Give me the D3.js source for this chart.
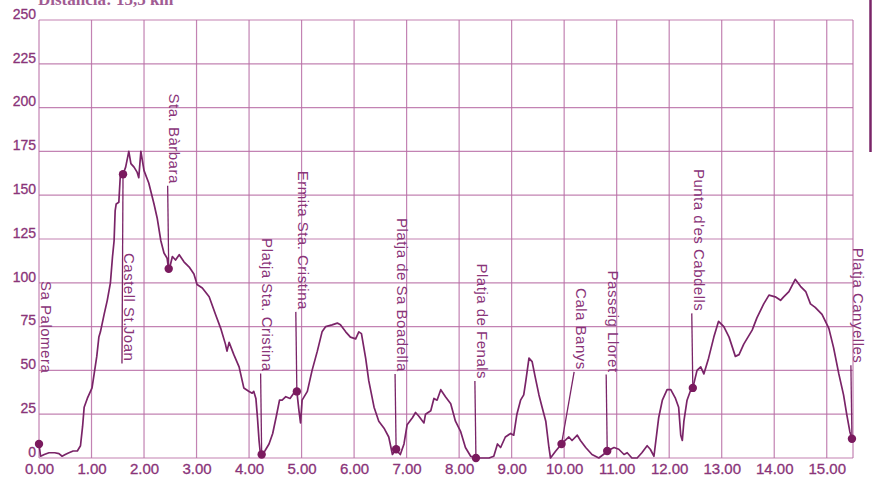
<!DOCTYPE html>
<html>
<head>
<meta charset="utf-8">
<script src="https://cdn.jsdelivr.net/npm/d3@7"></script>
<style>
  html, body { margin: 0; padding: 0; background: #ffffff; }
  svg { display: block; }
</style>
</head>
<body>
<script>
// ---- data ----
const titleText = "Distància: 15,5 km";
const xTicks = [0,1,2,3,4,5,6,7,8,9,10,11,12,13,14,15];
const yTicks = [0,25,50,75,100,125,150,175,200,225,250];

const distanceKm = [0.00,0.03,0.10,0.19,0.30,0.38,0.44,0.50,0.57,0.65,0.73,0.79,0.83,0.86,0.92,1.01,1.05,1.10,1.14,1.17,1.24,1.30,1.36,1.40,1.43,1.45,1.47,1.52,1.55,1.60,1.65,1.71,1.75,1.81,1.87,1.90,1.94,2.00,2.09,2.19,2.25,2.32,2.38,2.44,2.47,2.50,2.54,2.60,2.67,2.76,2.86,2.95,3.01,3.11,3.24,3.36,3.46,3.55,3.58,3.62,3.71,3.81,3.90,4.00,4.06,4.09,4.13,4.16,4.19,4.22,4.25,4.30,4.38,4.45,4.52,4.58,4.63,4.70,4.78,4.85,4.91,4.95,4.98,5.01,5.11,5.20,5.30,5.39,5.46,5.58,5.68,5.74,5.84,5.93,6.03,6.09,6.14,6.22,6.28,6.38,6.47,6.57,6.66,6.73,6.79,6.88,6.95,7.01,7.11,7.17,7.23,7.33,7.36,7.46,7.52,7.58,7.65,7.74,7.84,7.93,8.03,8.12,8.22,8.31,8.44,8.57,8.66,8.73,8.79,8.88,8.98,9.04,9.10,9.17,9.23,9.27,9.33,9.39,9.45,9.52,9.58,9.65,9.71,9.74,9.84,9.95,10.09,10.15,10.25,10.31,10.41,10.53,10.66,10.79,10.82,10.95,11.04,11.14,11.20,11.29,11.39,11.48,11.58,11.64,11.71,11.80,11.87,11.96,12.03,12.12,12.18,12.22,12.25,12.28,12.34,12.40,12.45,12.53,12.60,12.66,12.75,12.85,12.94,13.04,13.14,13.26,13.33,13.42,13.58,13.67,13.80,13.90,14.02,14.12,14.18,14.28,14.40,14.50,14.60,14.69,14.78,14.91,15.04,15.13,15.23,15.32,15.38,15.44,15.48];
const elevationM = [8,1,2,3,3,2.5,1,2,3,4,4,7,18,29,34,40,48,58,69,72,82,90,100,115,124,141,145,146,162,162,166,175,168,166,163,160,175,164,157,145,137,124,117,114,107,110,115,113,116,112,109,105,99,97,92,82,74,65,61,66,59,52,40,38,37,38,34,23,10,1,2,4,8,14,24,33,33,35,34,37,38,27,20,33,38,50,61,72,75,76,77,76,72,69,68,72,71,57,44,29,21,17,12,2,5,2,8,19,23,26,24,20,25,27,34,33,39,35,31,21,15,6,1,0,0,0,1,8,6,12,14,13,25,33,36,44,57,55,46,36,29,21,6,0,4,8,12,10,13,10,6,2,0,3,4,6,5,2,3,0,0,3,7,5,1,23,33,39,39,34,29,13,10,21,33,38,40,50,52,48,57,69,78,75,69,58,59,65,73,80,88,93,92,90,92,95,102,98,95,88,86,82,74,63,48,36,25,15,11];

const placeNames = ["Sa Palomera","Castell St.Joan","Sta. Bàrbara","Platja Sta. Cristina","Ermita Sta. Cristina","Platja de Sa Boadella","Platja de Fenals","Cala Banys","Passeig Lloret","Punta d'es Cabdells","Platja Canyelles"];
const placeKm   = [0.00,1.60,2.47,4.24,4.91,6.80,8.32,9.95,10.82,12.45,15.48];
const placeElev = [8,162,108,2,38,5,0,8,4,40,11];
const labelKm      = [0.00,1.58,2.45,4.22,4.89,6.78,8.30,10.19,10.80,12.43,15.46];
const labelTopElev = [101,117,208,125.5,164,137,111,97,107,165,120];

// ---- drawing ----
const W = 872, H = 478;
const svg = d3.select("body").append("svg").attr("width", W).attr("height", H);
svg.append("rect").attr("width", W).attr("height", H).attr("fill", "#fff");

const x = d3.scaleLinear().domain([0, 15.5]).range([39, 853]);
const y = d3.scaleLinear().domain([0, 250]).range([458, 20]);

const gridColor = "#b96ea6";
const inkColor = "#7a2468";
const textColor = "#8a3479";

// grid: horizontal
svg.append("g").selectAll("line").data(yTicks).join("line")
  .attr("x1", x(0)).attr("x2", x(15.5))
  .attr("y1", d => y(d)).attr("y2", d => y(d))
  .attr("stroke", gridColor).attr("stroke-width", 1.2).attr("opacity", 0.85);
// grid: vertical
svg.append("g").selectAll("line").data(xTicks.concat([15.5])).join("line")
  .attr("x1", d => x(d)).attr("x2", d => x(d))
  .attr("y1", y(0)).attr("y2", y(250))
  .attr("stroke", gridColor).attr("stroke-width", 1.2).attr("opacity", 0.85);

// axes via d3 axis generators (text only)
const xAxis = d3.axisBottom(x).tickValues(xTicks).tickFormat(d3.format(".2f")).tickSize(0).tickPadding(5);
const gx = svg.append("g").attr("transform", `translate(0,${y(0)})`).call(xAxis);
gx.select(".domain").remove();
gx.selectAll("text").attr("font-family", "Liberation Sans, Arial, sans-serif")
  .attr("font-size", 15).attr("fill", textColor).attr("stroke", textColor).attr("stroke-width", 0.3);

const yAxis = d3.axisLeft(y).tickValues(yTicks).tickSize(0).tickPadding(3);
const gy = svg.append("g").attr("transform", `translate(${x(0)},0)`).call(yAxis);
gy.select(".domain").remove();
gy.selectAll("text").attr("font-family", "Liberation Sans, Arial, sans-serif")
  .attr("font-size", 14).attr("dy", "-0.12em").attr("fill", textColor)
  .attr("stroke", textColor).attr("stroke-width", 0.3);

// title (partly clipped at top, as in the source)
svg.append("text").attr("x", 38).attr("y", 5)
  .attr("font-family", "Liberation Serif, Times New Roman, serif").attr("font-weight", "bold")
  .attr("font-size", 17).attr("fill", textColor).attr("opacity", 0.8).text(titleText);

// right border
svg.append("line").attr("x1", 870.5).attr("x2", 870.5).attr("y1", 0).attr("y2", 152)
  .attr("stroke", inkColor).attr("stroke-width", 2.5);

// profile
const profile = distanceKm.map((d, i) => [d, elevationM[i]]);
svg.append("path").datum(profile)
  .attr("d", d3.line().x(d => x(d[0])).y(d => y(d[1])))
  .attr("fill", "none").attr("stroke", inkColor).attr("stroke-width", 1.7).attr("stroke-linejoin", "round");

// labels and leaders
const places = placeNames.map((n, i) => ({ name: n, km: placeKm[i], elev: placeElev[i], lkm: labelKm[i], ltop: labelTopElev[i] }));
const lg = svg.append("g");
places.forEach((p, i) => {
  const t = lg.append("text")
    .attr("transform", `translate(${x(p.lkm)},${y(p.ltop)}) rotate(90)`)
    .attr("font-family", "Liberation Sans, Arial, sans-serif")
    .attr("font-size", 15).attr("letter-spacing", 0.5)
    .attr("fill", textColor).attr("dy", "-0.12em")
    .text(p.name);
  const len = t.node().getComputedTextLength();
  if (i > 0) {
    lg.append("line")
      .attr("x1", x(p.lkm)).attr("y1", y(p.ltop) + len + 2)
      .attr("x2", x(p.km)).attr("y2", y(p.elev))
      .attr("stroke", inkColor).attr("stroke-width", 1.3);
  }
});

// markers
svg.append("g").selectAll("circle").data(places).join("circle")
  .attr("cx", d => x(d.km)).attr("cy", d => y(d.elev)).attr("r", 4.2)
  .attr("fill", "#7a1a5e");
</script>
</body>
</html>
